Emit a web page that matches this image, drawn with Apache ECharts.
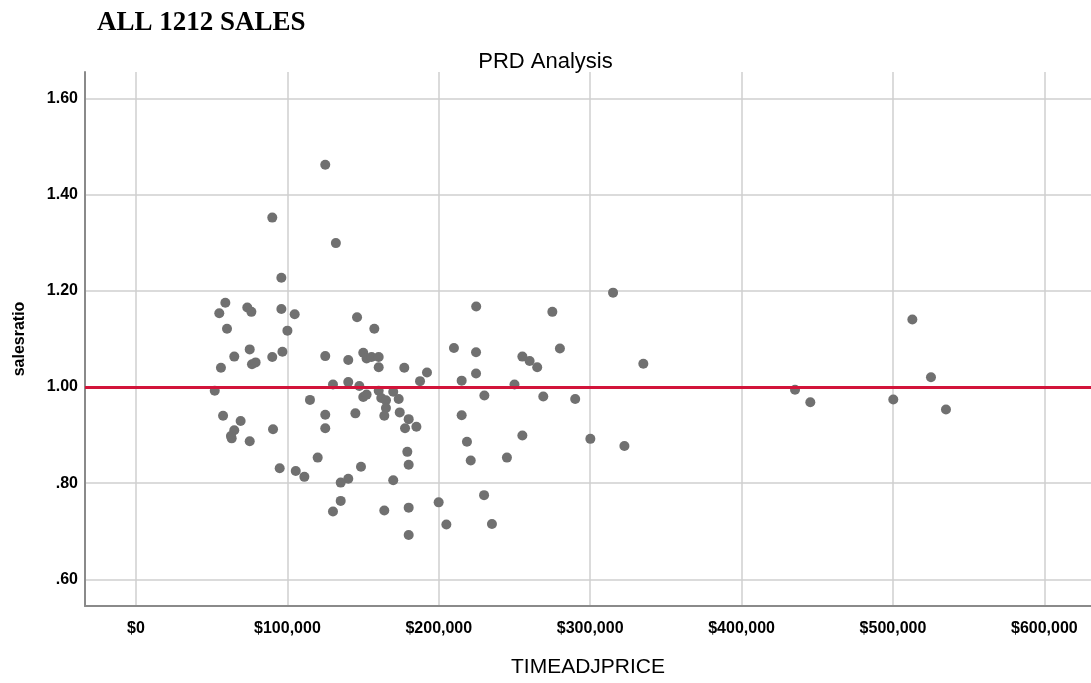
<!DOCTYPE html>
<html>
<head>
<meta charset="utf-8">
<script src="https://cdn.jsdelivr.net/npm/echarts@6/dist/echarts.min.js"></script>
<style>
html,body{margin:0;padding:0;background:#fff;}
#chart{width:1091px;height:683px;}
</style>
</head>
<body>
<div id="chart"></div>
<script>
// Data
var prices = [
  125000, 90000, 132000, 96000, 59000, 55000, 73500, 76200, 96000, 104800,
  60100, 100000, 146000, 157400, 75100, 64900, 56100, 76600, 79000, 90000,
  96700, 125000, 140200, 150100, 152300, 155600, 160300, 160300, 177200, 192200,
  187600, 210000, 215100, 224700, 224600, 224600, 52000, 130100, 140200, 147500,
  150100, 152300, 160300, 162000, 165100, 169900, 173500, 165100, 164000, 174200,
  180100, 177700, 185200, 215100, 218600, 221100, 114900, 125000, 125000, 144900,
  57500, 69100, 64900, 62700, 63200, 75100, 90500, 94900, 105500, 111200,
  120000, 148600, 140200, 135200, 169900, 135200, 130100, 164000, 180100, 180100,
  179200, 180100, 199900, 205000, 229900, 230100, 235100, 245000, 255200, 250000,
  255200, 260000, 265000, 275000, 280000, 269000, 290100, 300100, 315100, 335100,
  322600, 435300, 445400, 500200, 512800, 525100, 535000
];
var salesRatios = [
  1.462, 1.352, 1.299, 1.227, 1.175, 1.153, 1.165, 1.156, 1.162, 1.151,
  1.121, 1.117, 1.145, 1.121, 1.078, 1.063, 1.040, 1.047, 1.051, 1.062,
  1.073, 1.064, 1.056, 1.071, 1.059, 1.062, 1.062, 1.041, 1.040, 1.030,
  1.012, 1.081, 1.013, 1.167, 1.072, 1.028, 0.992, 1.005, 1.010, 1.002,
  0.979, 0.984, 0.992, 0.977, 0.972, 0.990, 0.975, 0.956, 0.940, 0.947,
  0.933, 0.914, 0.917, 0.941, 0.886, 0.847, 0.973, 0.942, 0.914, 0.945,
  0.940, 0.929, 0.910, 0.898, 0.893, 0.887, 0.912, 0.831, 0.825, 0.813,
  0.853, 0.834, 0.809, 0.801, 0.806, 0.763, 0.741, 0.743, 0.749, 0.692,
  0.865, 0.838, 0.760, 0.714, 0.775, 0.982, 0.715, 0.853, 0.899, 1.005,
  1.063, 1.054, 1.041, 1.156, 1.080, 0.980, 0.975, 0.892, 1.196, 1.048,
  0.877, 0.994, 0.968, 0.974, 1.140, 1.020, 0.953
];
var referenceRatio = 1.0;
var xTickValues = [0, 100000, 200000, 300000, 400000, 500000, 600000];
var yTickValues = [0.6, 0.8, 1.0, 1.2, 1.4, 1.6];

var points = prices.map(function (p, i) { return [p, salesRatios[i]]; });

var chart = echarts.init(document.getElementById('chart'), null, {renderer: 'canvas'});
var sans = '"Liberation Sans", Arial, sans-serif';
chart.setOption({
  animation: false,
  backgroundColor: '#ffffff',
  title: [
    {
      text: 'ALL 1212 SALES',
      left: 92, top: 5,
      textStyle: {fontFamily: '"Liberation Serif", "Times New Roman", serif', fontWeight: 'bold', fontSize: 27, color: '#000'}
    },
    {
      text: 'PRD Analysis',
      left: 'center', top: 46,
      textStyle: {fontFamily: sans, fontWeight: 'normal', fontSize: 22, color: '#000'}
    }
  ],
  grid: {left: 85, right: 0, top: 72, bottom: 71, containLabel: false},
  xAxis: {
    type: 'value',
    min: -33700, max: 630800,
    splitNumber: 7,
    name: 'TIMEADJPRICE',
    nameLocation: 'middle',
    nameGap: 51,
    nameTextStyle: {fontFamily: sans, fontSize: 21, color: '#000'},
    axisLine: {show: true, onZero: false, lineStyle: {color: '#8a8a8a', width: 2}},
    axisTick: {show: false, customValues: xTickValues},
    axisLabel: {
      customValues: xTickValues,
      margin: 15,
      fontFamily: sans, fontWeight: 'bold', fontSize: 16, color: '#000',
      formatter: function (v) { return '$' + Math.round(v).toLocaleString('en-US'); }
    },
    splitLine: {show: true, lineStyle: {color: '#cfcfcf', width: 1.5}}
  },
  yAxis: {
    type: 'value',
    min: 0.5445, max: 1.6547,
    splitNumber: 5,
    name: 'salesratio',
    nameLocation: 'middle',
    nameGap: 57,
    nameRotate: 90,
    nameTextStyle: {fontFamily: sans, fontWeight: 'bold', fontSize: 16, color: '#000'},
    axisLine: {show: true, onZero: false, lineStyle: {color: '#8a8a8a', width: 2}},
    axisTick: {show: false, customValues: yTickValues},
    axisLabel: {
      customValues: yTickValues,
      margin: 7,
      fontFamily: sans, fontWeight: 'bold', fontSize: 16, color: '#000',
      formatter: function (v) {
        var s = v.toFixed(2);
        return v < 1 ? s.replace(/^0/, '') : s;
      }
    },
    splitLine: {show: true, lineStyle: {color: '#cfcfcf', width: 1.5}}
  },
  series: [{
    type: 'scatter',
    data: points,
    symbol: 'circle',
    symbolSize: 10,
    itemStyle: {color: '#707070', opacity: 1},
    markLine: {
      silent: true,
      symbol: ['none', 'none'],
      label: {show: false},
      lineStyle: {color: '#d2143a', width: 3, type: 'solid'},
      data: [{yAxis: referenceRatio}]
    }
  }]
});
</script>
</body>
</html>
